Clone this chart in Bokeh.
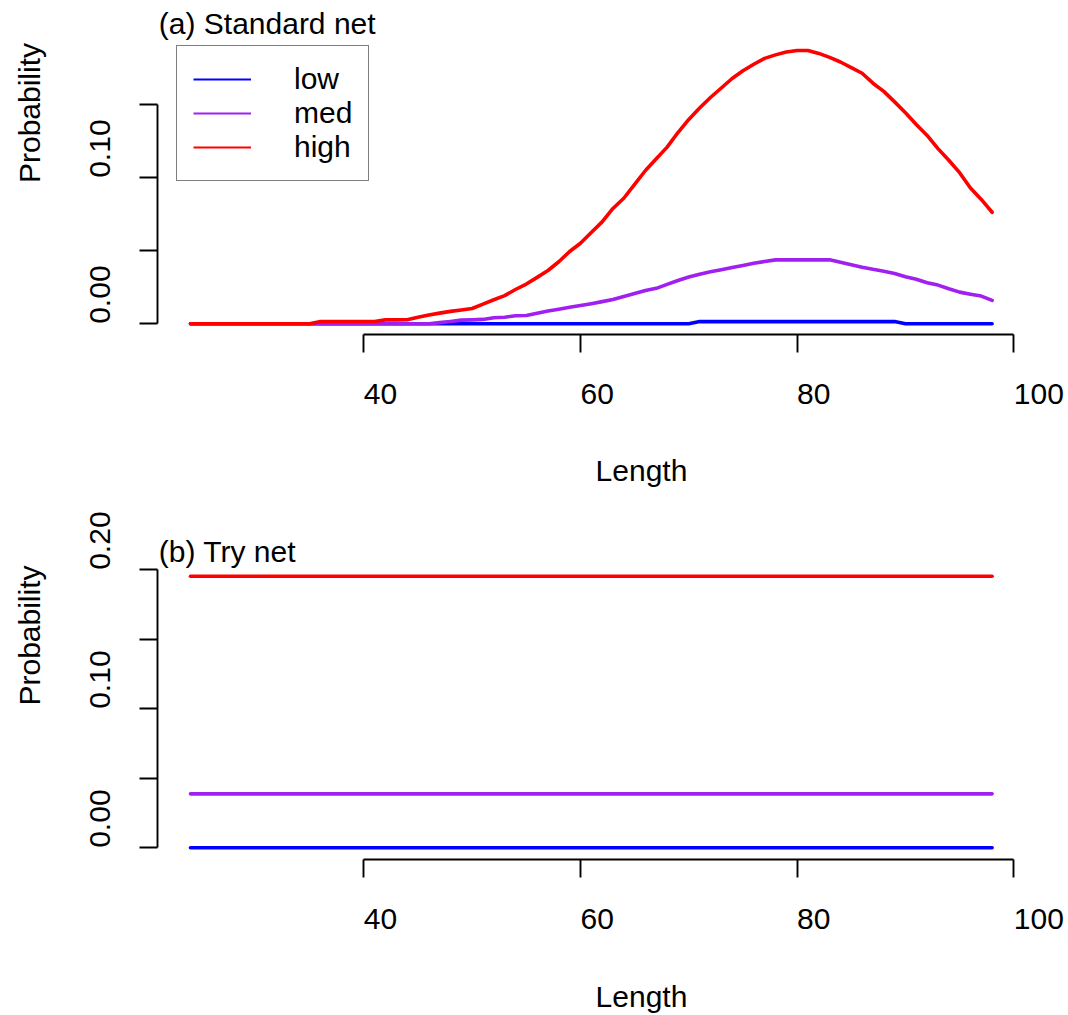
import math
from bokeh.plotting import figure
from bokeh.models import (FixedTicker, CustomJSTickFormatter, Label, Legend,
                          LegendItem, Range1d)
from bokeh.layouts import column
from bokeh.embed import file_html
from bokeh.resources import INLINE

# ---------------- data ----------------
lengths = list(range(24, 99))

std_low = [
    0, 0, 0, 0, 0, 0, 0, 0, 0, 0,            # 24-33
    0, 0, 0, 0, 0, 0, 0, 0, 0, 0,            # 34-43
    0, 0, 0, 0, 0, 0, 0, 0, 0, 0,            # 44-53
    0, 0, 0, 0, 0, 0, 0, 0, 0, 0,            # 54-63
    0, 0, 0, 0, 0, 0, 0,                     # 64-70
    0.0015, 0.0015, 0.0015, 0.0015, 0.0015, 0.0015, 0.0015, 0.0015, 0.0015, 0.0015,  # 71-80
    0.0015, 0.0015, 0.0015, 0.0015, 0.0015, 0.0015, 0.0015, 0.0015, 0.0015,          # 81-89
    0, 0, 0, 0, 0, 0, 0, 0, 0,               # 90-98
]

std_med = [
    0, 0, 0, 0, 0, 0, 0, 0, 0, 0,            # 24-33
    0, 0, 0, 0, 0, 0, 0, 0, 0, 0,            # 34-43
    0, 0, 0,                                 # 44-46
    0.0008, 0.0016, 0.0025, 0.0027, 0.0030, 0.0041, 0.0045, 0.0055, 0.0057, 0.0072,  # 47-56
    0.0087, 0.0100, 0.0113, 0.0125, 0.0138, 0.0152, 0.0167, 0.0187, 0.0207, 0.0228,  # 57-66
    0.0243, 0.0270, 0.0297, 0.0320, 0.0340, 0.0356, 0.0370, 0.0385, 0.0400, 0.0414,  # 67-76
    0.0427, 0.0438, 0.0438, 0.0438, 0.0438, 0.0438, 0.0438, 0.0422, 0.0405, 0.0388,  # 77-86
    0.0373, 0.0360, 0.0345, 0.0322, 0.0305, 0.0281, 0.0265, 0.0240, 0.0217, 0.0203,  # 87-96
    0.0190, 0.0160,                                                                  # 97-98
]

std_high = [
    0, 0, 0, 0, 0, 0, 0, 0, 0, 0, 0, 0,      # 24-35
    0.0016, 0.0016, 0.0016, 0.0016, 0.0016, 0.0016, 0.0027, 0.0027, 0.0028, 0.0045,  # 36-45
    0.0060, 0.0073, 0.0085, 0.0095, 0.0105, 0.0135, 0.0165, 0.0193, 0.0235, 0.0272,  # 46-55
    0.0318, 0.0365, 0.0425, 0.0495, 0.0552, 0.0625, 0.0698, 0.0790, 0.0860, 0.0955,  # 56-65
    0.1050, 0.1130, 0.1210, 0.1310, 0.1400, 0.1478, 0.1550, 0.1615, 0.1680, 0.1733,  # 66-75
    0.1778, 0.1818, 0.1842, 0.1862, 0.1872, 0.1872, 0.1852, 0.1825, 0.1793, 0.1755,  # 76-85
    0.1716, 0.1648, 0.1592, 0.1520, 0.1445, 0.1365, 0.1290, 0.1200, 0.1120, 0.1035,  # 86-95
    0.0930, 0.0852, 0.0764,                                                          # 96-98
]

try_lengths = [24, 98]
try_low = [0.0, 0.0]
try_med = [0.0388, 0.0388]
try_high = [0.1954, 0.1954]

series_names = ["low", "med", "high"]
series_colors = ["#0000FF", "#A020F0", "#FF0000"]

x_ticks = [40, 60, 80, 100]
x_tick_labels = ["40", "60", "80", "100"]
y_ticks_std = [0.00, 0.05, 0.10, 0.15]
y_labels_std = ["0.00", "", "0.10", ""]
y_ticks_try = [0.00, 0.05, 0.10, 0.15, 0.20]
y_labels_try = ["0.00", "", "0.10", "", "0.20"]

# ---------------- styling / calibration (pixels) ----------------
FONT = "Liberation Sans"
FPX = 30
FS = f"{FPX}px"
W = 1068
AXIS_X_PX = 157.3      # y-axis line position
X40_PX = 363.3         # pixel of length 40
X_PER = 10.833         # px per length unit
LINE_W = 3.6
AX_W = 1.9
BASE_FIX = 9           # compensation for the text baseline placement


def text_w(s):
    return sum(0.556 if c.isdigit() else 0.278 for c in s) * FPX


def make_panel(height, axis_y_px, y0_px, y_per, y_ticks, y_labels, y_bounds,
               title, title_base_px, ylab_center_px, xlab_base_px):
    # frame covers the whole canvas; axes are pinned with fixed_location
    x_start = 40 + (0 - X40_PX) / X_PER
    x_end = 40 + (W - X40_PX) / X_PER
    y_start = (y0_px - height) / y_per
    y_end = y0_px / y_per
    p = figure(width=W, height=height,
               x_range=Range1d(x_start, x_end), y_range=Range1d(y_start, y_end),
               output_backend="svg", toolbar_location=None,
               min_border_left=0, min_border_right=0,
               min_border_top=0, min_border_bottom=0)
    p.grid.visible = False
    p.outline_line_color = None
    p.background_fill_color = "white"
    p.border_fill_color = "white"

    xaxis = p.xaxis[0]
    yaxis = p.yaxis[0]
    xaxis.fixed_location = (y0_px - axis_y_px) / y_per
    yaxis.fixed_location = 40 + (AXIS_X_PX - X40_PX) / X_PER

    # x axis: ticks at real positions (minor), labels left-aligned at ticks
    xlab_pos = [t + text_w(l) / 2 / X_PER for t, l in zip(x_ticks, x_tick_labels)]
    xaxis.ticker = FixedTicker(ticks=xlab_pos, minor_ticks=x_ticks)
    xaxis.formatter = CustomJSTickFormatter(args=dict(labels=x_tick_labels),
                                            code="return labels[index];")
    xaxis.bounds = (x_ticks[0], x_ticks[-1])
    xaxis.major_label_standoff = 31

    # y axis
    ylab_pos = [t + text_w(l) / 2 / y_per for t, l in zip(y_ticks, y_labels) if l]
    ylab_txt = [l for l in y_labels if l]
    yaxis.ticker = FixedTicker(ticks=ylab_pos, minor_ticks=y_ticks)
    yaxis.formatter = CustomJSTickFormatter(args=dict(labels=ylab_txt),
                                            code="return labels[index];")
    yaxis.bounds = y_bounds
    yaxis.major_label_orientation = "vertical"
    yaxis.major_label_standoff = 30

    for ax in (xaxis, yaxis):
        ax.axis_line_color = "black"
        ax.axis_line_width = AX_W
        ax.major_tick_line_color = None
        ax.major_tick_out = 18
        ax.major_tick_in = 0
        ax.minor_tick_line_color = "black"
        ax.minor_tick_line_width = AX_W
        ax.minor_tick_out = 18
        ax.minor_tick_in = 0
        ax.major_label_text_font = FONT
        ax.major_label_text_font_size = FS
        ax.major_label_text_color = "black"

    common = dict(x_units="screen", y_units="screen", text_font=FONT,
                  text_font_size=FS, text_color="black", text_baseline="alphabetic")
    p.add_layout(Label(x=AXIS_X_PX + 1, y=height - title_base_px + BASE_FIX,
                       text=title, text_align="left", **common))
    p.add_layout(Label(x=37.5 - BASE_FIX, y=height - ylab_center_px,
                       text="Probability", angle=math.pi / 2, text_align="center",
                       **common))
    p.add_layout(Label(x=641, y=height - xlab_base_px + BASE_FIX,
                       text="Length", text_align="center", **common))
    return p


# ---------------- panel (a) ----------------
p1 = make_panel(507, 334.3, 323.3, 1460.0, y_ticks_std, y_labels_std, (0, 0.15),
                "(a) Standard net", 32, 112.5, 479)

leg_items = []
for name, vals, col in zip(series_names, [std_low, std_med, std_high], series_colors):
    # thin copy (used for the legend key), hidden under the thick line
    r = p1.line(lengths, vals, line_color=col, line_width=2)
    leg_items.append(LegendItem(label=name, renderers=[r]))
for vals, col in zip([std_low, std_med, std_high], series_colors):
    p1.line(lengths, vals, line_color=col, line_width=LINE_W,
            line_cap="round", line_join="round")

legend = Legend(items=leg_items, location=(176, 507 - 181), margin=0, padding=16,
                spacing=0, glyph_width=58, glyph_height=34, label_height=34,
                label_standoff=43, label_text_font=FONT, label_text_font_size=FS,
                label_text_color="black", border_line_color="black",
                border_line_width=AX_W, background_fill_color="white",
                background_fill_alpha=1.0)
p1.add_layout(legend)

# ---------------- panel (b) ----------------
# page offset of this panel is 507 px
p2 = make_panel(508, 859.3 - 507, 847.3 - 507, 1390.0, y_ticks_try, y_labels_try,
                (0, 0.20), "(b) Try net", 560 - 507, 635 - 507, 1005 - 507)
for vals, col in zip([try_low, try_med, try_high], series_colors):
    p2.line(try_lengths, vals, line_color=col, line_width=LINE_W,
            line_cap="round", line_join="round")

layout = column(p1, p2, spacing=0)
open("out.html", "w").write(file_html(layout, INLINE))
